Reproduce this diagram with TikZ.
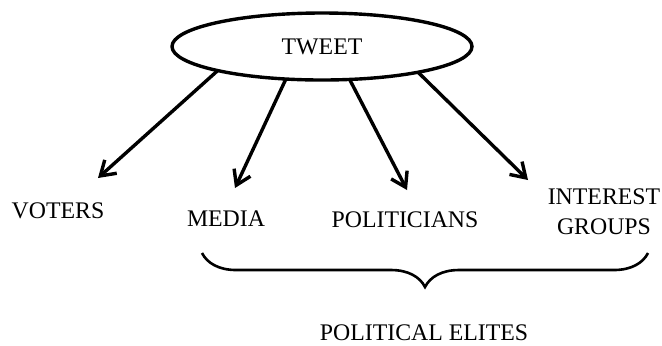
\documentclass[tikz,border=0pt]{standalone}
\usepackage{fontspec}
\setmainfont{Liberation Serif}
\usetikzlibrary{arrows.meta,shapes.geometric,decorations.pathreplacing}
\tikzset{
  lbl/.style={inner sep=0pt, align=center},
  tw/.style={draw, ellipse, line width=1.7pt, minimum width=150pt, minimum height=33.5pt, inner sep=0pt, outer sep=0pt},
  arr/.style={-{Straight Barb[length=7pt,width=9pt]}, line width=1.7pt},
  brc/.style={decorate, decoration={brace, amplitude=17pt}, line width=1.3pt}
}
\begin{document}
\begin{tikzpicture}[x=0.5pt, y=-0.5pt, font=\fontsize{11.9}{15}\selectfont]
\useasboundingbox (0,0) rectangle (662,345);
\node[tw] (tweet) at (322,46.5) {TWEET};
\node[lbl] (voters) at (58,211) {VOTERS};
\node[lbl] (media) at (226,219) {MEDIA};
\node[lbl] (politicians) at (405,220) {POLITICIANS};
\node[lbl] (groups) at (604,212) {INTEREST\\GROUPS};
\draw[arr] (tweet.193) -- ([shift={(40,-33)}]voters.center);
\draw[arr] (tweet.222) -- ([shift={(9,-31)}]media.center);
\draw[arr] (tweet.310) -- ([shift={(2,-30)}]politicians.center);
\draw[arr] (tweet.345.6) -- ([shift={(-76,-32)}]groups.center);
% brace under the elite groups
\coordinate (bl) at (202,253);
\coordinate (br) at (648,253);
\draw[brc] (br) -- (bl);
\node[lbl] (elites) at (424,333) {POLITICAL ELITES};
\end{tikzpicture}
\end{document}
